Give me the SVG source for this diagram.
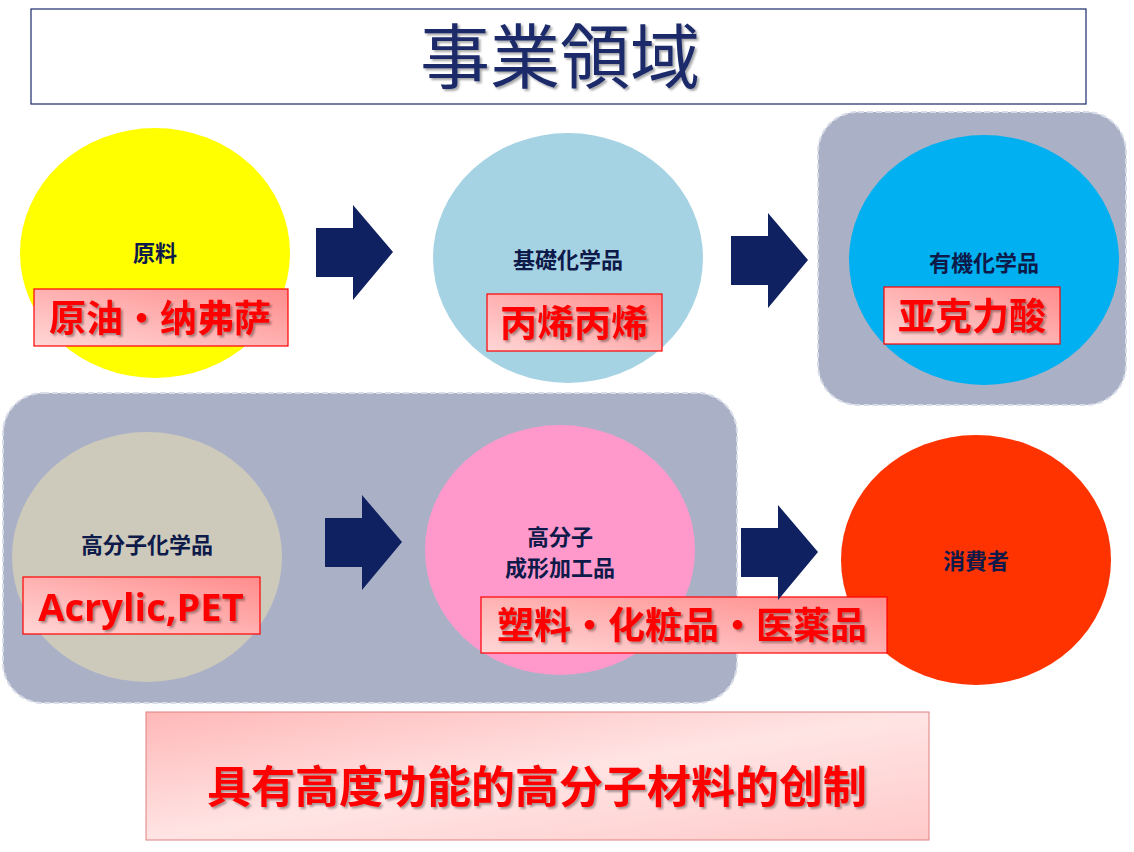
<svg xmlns="http://www.w3.org/2000/svg" width="1134" height="852" viewBox="0 0 1134 852">
<defs>
<linearGradient id="lg" x1="0" y1="1" x2="1" y2="0"><stop offset="0" stop-color="#ffd6d6"/><stop offset="1" stop-color="#ff8c8c"/></linearGradient>
<linearGradient id="bg" x1="0" y1="0" x2="1" y2="1"><stop offset="0" stop-color="#ffb8b8"/><stop offset="0.5" stop-color="#ffe4e4"/><stop offset="1" stop-color="#ffcaca"/></linearGradient>
<filter id="sh"><feDropShadow dx="2" dy="2" stdDeviation="1" flood-color="#000" flood-opacity="0.35"/></filter>
</defs>
<style>
.n{font-family:"Noto Sans CJK JP",sans-serif;font-weight:bold;font-size:22px;fill:#0d1a4a;text-anchor:middle}
.lb{fill:url(#lg);stroke:#ff0000;stroke-width:1.2}
.lt{font-family:"Noto Sans CJK SC","Noto Sans CJK JP",sans-serif;font-weight:bold;font-size:37px;fill:#ff0000;text-anchor:middle;filter:url(#sh)}
.ar{fill:#0f2160}
.pn{fill:#aab0c6;stroke:#d8dce8;stroke-width:2;stroke-dasharray:6 3}
</style>
<rect width="1134" height="852" fill="#fff"/>
<g id="title"><rect x="31" y="9" width="1055" height="95" fill="#fff" stroke="#1a2a6a" stroke-width="1.2"/>
<text x="560" y="83" font-family="Noto Sans CJK JP,sans-serif" font-size="70" fill="#1a2a6a" text-anchor="middle" filter="url(#sh)">事業領域</text></g>
<g id="panel1"><rect class="pn" x="818" y="112" width="308" height="293" rx="40"/></g>
<g id="panel2"><rect class="pn" x="3" y="393" width="734" height="310" rx="40"/></g>
<g id="n1"><ellipse cx="155" cy="253" rx="135" ry="125" fill="#ffff00"/><text class="n" x="155" y="261">原料</text>
<rect class="lb" x="34" y="289" width="254" height="57"/><text class="lt" x="160" y="332">原油・纳弗萨</text></g>
<g id="n2"><ellipse cx="568" cy="258" rx="135" ry="125" fill="#a6d3e3"/><text class="n" x="568" y="268">基礎化学品</text>
<rect class="lb" x="487" y="294" width="175" height="57"/><text class="lt" x="574" y="337">丙烯丙烯</text></g>
<g id="n3"><ellipse cx="984" cy="260" rx="135" ry="125" fill="#00b0f0"/><text class="n" x="984" y="271">有機化学品</text>
<rect class="lb" x="884" y="287" width="176" height="57"/><text class="lt" x="972" y="330">亚克力酸</text></g>
<g id="n4"><ellipse cx="147" cy="557" rx="135" ry="125" fill="#cdcabc"/><text class="n" x="147" y="553">高分子化学品</text>
<rect class="lb" x="23" y="577" width="237" height="57"/><text x="141" y="621" font-family="Open Sans,Liberation Sans,sans-serif" font-weight="bold" font-size="38" fill="#ff0000" text-anchor="middle" filter="url(#sh)">Acrylic,PET</text></g>
<g id="n5"><ellipse cx="560" cy="550" rx="135" ry="125" fill="#ff99cc"/><text class="n" x="560" y="545">高分子</text><text class="n" x="560" y="576">成形加工品</text></g>
<g id="n6"><ellipse cx="976" cy="560" rx="135" ry="125" fill="#ff3300"/><text class="n" x="976" y="569">消費者</text></g>
<g id="n5label"><rect class="lb" x="481" y="597" width="406" height="56"/><text class="lt" x="682" y="639">塑料・化粧品・医薬品</text></g>
<g id="connectors">
<path class="ar" d="M316 228H353V205L393 252L353 300V277H316Z"/>
<path class="ar" d="M731 236H768V213L808 260L768 308V285H731Z"/>
<path class="ar" d="M325 518H362V495L402 542L362 590V567H325Z"/>
<path class="ar" d="M741 528H778V505L818 552L778 600V577H741Z"/>
</g>
<g id="bottom"><rect x="146" y="712" width="783" height="128" fill="url(#bg)" stroke="#e08080" stroke-width="1"/>
<text x="537" y="803" font-family="Noto Sans CJK SC,sans-serif" font-weight="bold" font-size="44" fill="#ff0000" text-anchor="middle" filter="url(#sh)">具有高度功能的高分子材料的创制</text></g>
</svg>
